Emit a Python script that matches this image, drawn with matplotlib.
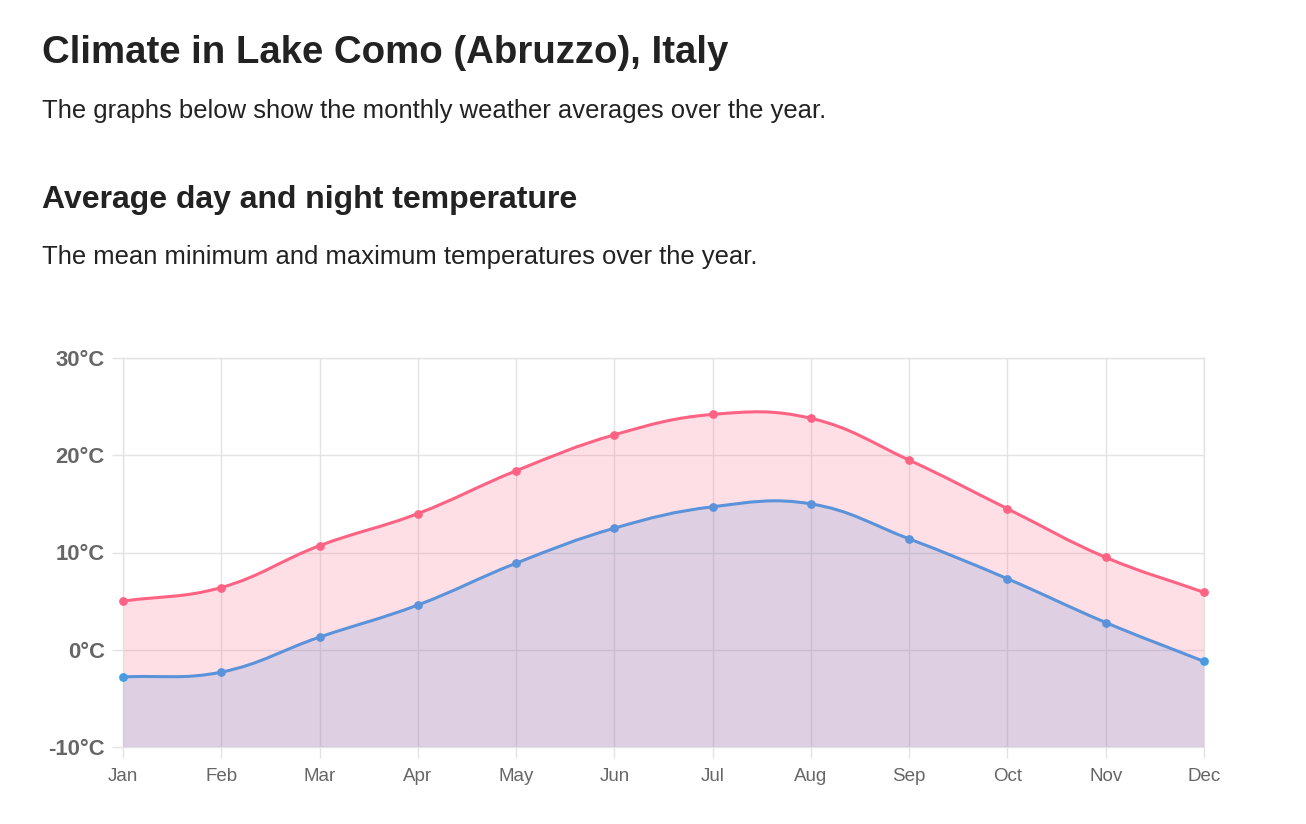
import numpy as np
import matplotlib
matplotlib.use("Agg")
import matplotlib.pyplot as plt
from matplotlib.path import Path
from matplotlib.patches import PathPatch

months = ["Jan", "Feb", "Mar", "Apr", "May", "Jun", "Jul", "Aug", "Sep", "Oct", "Nov", "Dec"]
temp_max = [5.0, 6.4, 10.7, 14.0, 18.4, 22.1, 24.2, 23.8, 19.5, 14.5, 9.5, 5.9]
temp_min = [-2.8, -2.3, 1.3, 4.6, 8.9, 12.5, 14.7, 15.0, 11.4, 7.3, 2.8, -1.2]
y_ticks = [-10, 0, 10, 20, 30]
y_tick_labels = ["-10°C", "0°C", "10°C", "20°C", "30°C"]

title = "Climate in Lake Como (Abruzzo), Italy"
subtitle = "The graphs below show the monthly weather averages over the year."
heading = "Average day and night temperature"
desc = "The mean minimum and maximum temperatures over the year."

FONT = "Liberation Sans"
W, H = 1306, 824
fig = plt.figure(figsize=(W / 100, H / 100), dpi=100)
fig.patch.set_facecolor("white")

def fx(px):
    return px / W

def fy(py):
    return 1 - py / H

fig.text(fx(42), fy(63), title, family=FONT, fontweight="bold", fontsize=27.6,
         color="#222222", va="baseline", ha="left")
fig.text(fx(42), fy(118), subtitle, family=FONT, fontsize=18.45,
         color="#222222", va="baseline", ha="left")
fig.text(fx(42), fy(208), heading, family=FONT, fontweight="bold", fontsize=23.0,
         color="#222222", va="baseline", ha="left")
fig.text(fx(42), fy(264), desc, family=FONT, fontsize=18.45,
         color="#222222", va="baseline", ha="left")

left, right, top, bottom = 123, 1204, 358, 747
ax = fig.add_axes([fx(left), fy(bottom), (right - left) / W, (bottom - top) / H])
ax.set_xlim(0, len(months) - 1)
ax.set_ylim(-10, 30)
x = np.arange(len(months))

grid_c = "#e3e3e3"
ax.set_xticks(x)
ax.set_xticklabels(months, family=FONT, fontsize=13.5, color="#666666")
ax.set_yticks(y_ticks)
ax.set_yticklabels(y_tick_labels, family=FONT, fontsize=15.8, fontweight="bold", color="#666666")
ax.tick_params(axis="both", length=8, color=grid_c, width=1)
ax.tick_params(axis="x", pad=7)
ax.tick_params(axis="y", pad=5)
ax.grid(True, color=grid_c, linewidth=1)
ax.set_axisbelow(True)
for s in ax.spines.values():
    s.set_color(grid_c)
    s.set_linewidth(1)

fig.canvas.draw()

def spline_path(xs, ys, tension=0.4):
    pts = ax.transData.transform(np.column_stack([xs, ys]))
    n = len(pts)
    verts = [tuple(pts[0])]
    codes = [Path.MOVETO]
    cps = []
    for i in range(n):
        prev = pts[i - 1] if i > 0 else pts[i]
        nxt = pts[i + 1] if i < n - 1 else pts[i]
        cur = pts[i]
        d01 = np.hypot(*(cur - prev))
        d12 = np.hypot(*(nxt - cur))
        tot = d01 + d12
        s01 = d01 / tot if tot else 0
        s12 = d12 / tot if tot else 0
        fa = tension * s01
        fb = tension * s12
        cps.append((cur - fa * (nxt - prev), cur + fb * (nxt - prev)))
    for i in range(1, n):
        verts += [tuple(cps[i - 1][1]), tuple(cps[i][0]), tuple(pts[i])]
        codes += [Path.CURVE4] * 3
    inv = ax.transData.inverted()
    verts = [tuple(inv.transform(v)) for v in verts]
    return verts, codes

def draw_series(ys, line_c, fill_rgba, end_edge, end_face, z):
    verts, codes = spline_path(x, ys)
    fv = verts + [(x[-1], -10), (x[0], -10), verts[0]]
    fc = codes + [Path.LINETO, Path.LINETO, Path.CLOSEPOLY]
    ax.add_patch(PathPatch(Path(fv, fc), facecolor=fill_rgba, edgecolor="none", zorder=z))
    ax.add_patch(PathPatch(Path(verts, codes), facecolor="none", edgecolor=line_c,
                           linewidth=2.2, zorder=z + 2, capstyle="round", joinstyle="round"))
    ax.plot(x[1:-1], ys[1:-1], linestyle="none", marker="o", markersize=6.3, color=line_c,
            markeredgewidth=0, zorder=z + 3, clip_on=False)
    ax.plot([x[0], x[-1]], [ys[0], ys[-1]], linestyle="none", marker="o", markersize=5.0,
            markerfacecolor=end_face, markeredgecolor=end_edge, markeredgewidth=1.3,
            zorder=z + 3, clip_on=False)

draw_series(temp_max, "#ff6384", (1.0, 99 / 255, 132 / 255, 0.2), "#ff6384", "#ff6384", 2)
draw_series(temp_min, "#5b93da", (91 / 255, 147 / 255, 218 / 255, 0.2), "#36a2eb", "#5b93da", 3)

fig.savefig("out.png", dpi=100, facecolor="white")
